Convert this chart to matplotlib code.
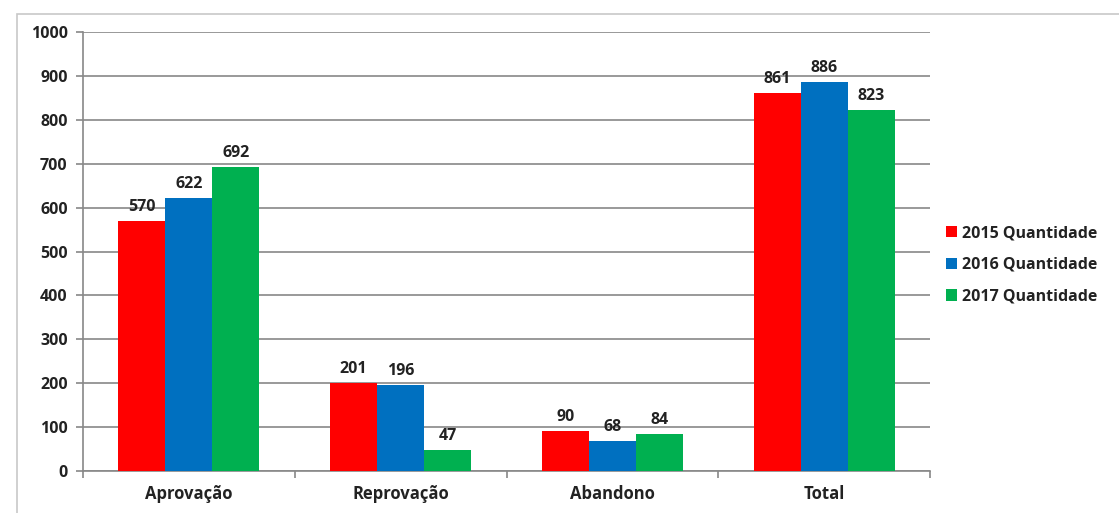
import matplotlib
matplotlib.use('Agg')
import matplotlib.pyplot as plt
import numpy as np

categories = ['Aprovação', 'Reprovação', 'Abandono', 'Total']
series = ['2015 Quantidade', '2016 Quantidade', '2017 Quantidade']
v2015 = [570, 201, 90, 861]
v2016 = [622, 196, 68, 886]
v2017 = [692, 47, 84, 823]
colors = ['#FF0000', '#0070C0', '#00B050']
yticks = [0, 100, 200, 300, 400, 500, 600, 700, 800, 900, 1000]

plt.rcParams['font.family'] = ['Open Sans', 'DejaVu Sans']

fig = plt.figure(figsize=(11.19, 5.13), dpi=100)
# outer chart frame
fig.patches.append(plt.Rectangle((17 / 1119, -0.1), 1.2, (513 - 14) / 513 + 0.1,
                                 transform=fig.transFigure, fill=False,
                                 edgecolor='#C8C8C8', linewidth=1.2))
ax = fig.add_axes([83 / 1119, 1 - 471 / 513, (930 - 83) / 1119, (471 - 32) / 513])

x = np.arange(len(categories))
w = 0.222
for i, vals in enumerate([v2015, v2016, v2017]):
    bars = ax.bar(x + (i - 1) * w, vals, w, color=colors[i], label=series[i], zorder=3)
    for b, v in zip(bars, vals):
        ax.text(b.get_x() + b.get_width() / 2, v + 14, str(v), ha='center', va='bottom',
                fontsize=11.5, fontweight='bold', color='#222222')

ax.set_xlim(-0.5, 3.5)
ax.set_ylim(0, 1000)
ax.set_yticks(yticks)
ax.set_xticks(x)
ax.set_xticklabels(categories)
ax.yaxis.grid(True, color='#888888', linewidth=1.2, zorder=0)
ax.tick_params(axis='y', length=5, width=1.2, color='#888888', labelsize=11.5, pad=6)
ax.tick_params(axis='x', length=0, labelsize=12, pad=10)
ax.set_xticks(np.arange(-0.5, 4.0, 1.0), minor=True)
ax.tick_params(axis='x', which='minor', length=5, width=1.2, color='#888888')
for lbl in ax.get_xticklabels() + ax.get_yticklabels():
    lbl.set_fontweight('bold')
    lbl.set_color('#222222')
for s in ['top', 'right']:
    ax.spines[s].set_visible(False)
for s in ['left', 'bottom']:
    ax.spines[s].set_color('#888888')
    ax.spines[s].set_linewidth(1.2)

leg = fig.legend(loc='center left', bbox_to_anchor=(946 / 1119, 1 - 265 / 513), frameon=False,
                 prop={'weight': 'bold', 'size': 11.5}, handlelength=0.7, handleheight=0.7,
                 handletextpad=0.3, labelspacing=0.98, borderaxespad=0, borderpad=0)
for t in leg.get_texts():
    t.set_color('#222222')

fig.savefig('out.png', dpi=100)
